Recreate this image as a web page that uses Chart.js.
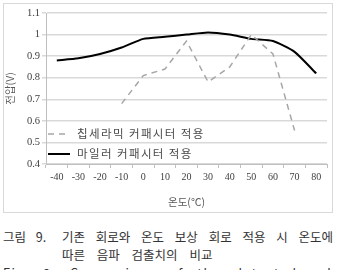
<!DOCTYPE html>
<html>
<head>
<meta charset="utf-8">
<script src="https://cdn.jsdelivr.net/npm/chart.js@4/dist/chart.umd.min.js"></script>
<style>
  html, body { margin: 0; padding: 0; background: #fff; }
  body { width: 340px; height: 270px; position: relative; overflow: hidden; font-family: "Noto Sans CJK KR", sans-serif; }
  #box { position: absolute; left: 3px; top: 3px; width: 330px; height: 210px; border: 1px solid #d9d9d9; box-sizing: border-box; }
  #box canvas { display: block; }
  .cap { position: absolute; font-size: 12.5px; color: #333; white-space: nowrap; }
  .row { display: flex; justify-content: space-between; }
</style>
</head>
<body>
<div id="box"><canvas id="chart" width="328" height="208"></canvas></div>

<div class="cap" style="left:3px; top:227px; word-spacing:7px;">그림 9.</div>
<div class="cap row" style="left:62px; top:227px; width:271px;">
  <span>기존</span><span>회로와</span><span>온도</span><span>보상</span><span>회로</span><span>적용</span><span>시</span><span>온도에</span>
</div>
<div class="cap" style="left:62px; top:245px; word-spacing:9px;">따른 음파 검출치의 비교</div>
<div class="cap" style="left:3px; top:263px; word-spacing:9px; letter-spacing:1.5px;">Fig. 9. Comparison of the detected values</div>

<script>
// 온도 (℃)
const temps = ['-40', '-30', '-20', '-10', '0', '10', '20', '30', '40', '50', '60', '70', '80'];
// 칩세라믹 커패시터 적용 (점선)
const ceramic = [null, null, null, 0.68, 0.81, 0.84, 0.97, 0.78, 0.85, 1.0, 0.91, 0.555, null];
// 마일러 커패시터 적용 (실선)
const mylar = [0.88, 0.89, 0.91, 0.94, 0.98, 0.99, 1.0, 1.01, 1.0, 0.98, 0.97, 0.92, 0.82];

const legendLabels = ['칩세라믹 커패시터 적용', '마일러 커패시터 적용'];
const yTicks = [0.4, 0.5, 0.6, 0.7, 0.8, 0.9, 1, 1.1];

// 범례를 플롯 안 왼쪽 아래에 그린다
const insideLegend = {
    id: 'insideLegend',
    afterDraw(chart) {
        const ctx = chart.ctx;
        const rows = [130, 150];
        ctx.save();
        chart.data.datasets.forEach((ds, i) => {
            const y = rows[i];
            ctx.beginPath();
            ctx.strokeStyle = ds.borderColor;
            ctx.lineWidth = ds.borderWidth;
            ctx.setLineDash(ds.borderDash || []);
            ctx.moveTo(44, y);
            ctx.lineTo(66, y);
            ctx.stroke();
            ctx.setLineDash([]);
            ctx.fillStyle = '#4a4a4a';
            ctx.font = '11.5px "Noto Sans CJK KR"';
            ctx.letterSpacing = '1.4px';
            ctx.textBaseline = 'middle';
            ctx.fillText(ds.label, 73, y);
        });
        ctx.restore();
    }
};

new Chart(document.getElementById('chart'), {
    type: 'line',
    data: {
        labels: temps,
        datasets: [
            {
                label: legendLabels[0],
                data: ceramic,
                borderColor: '#a6a6a6',
                borderWidth: 1.5,
                borderDash: [6, 5],
                pointRadius: 0,
                spanGaps: false,
                tension: 0
            },
            {
                label: legendLabels[1],
                data: mylar,
                borderColor: '#000000',
                borderWidth: 2,
                pointRadius: 0,
                tension: 0.2
            }
        ]
    },
    options: {
        responsive: false,
        animation: false,
        layout: { padding: { top: 9, right: 5, bottom: 0, left: 0 } },
        plugins: {
            legend: { display: false },
            tooltip: { enabled: false }
        },
        scales: {
            x: {
                offset: true,
                afterFit: (scale) => { scale.height = 48; },
                grid: { drawOnChartArea: false, drawTicks: true, tickLength: 4, color: '#bfbfbf', offset: true },
                border: { display: true, color: '#bfbfbf' },
                ticks: { color: '#404040', font: { family: 'Liberation Serif', size: 10 }, padding: 3, maxRotation: 0, autoSkip: false },
                title: { display: true, text: '온도(℃)', color: '#595959', font: { family: 'Noto Sans CJK KR', size: 10.5 }, padding: { top: 2 } }
            },
            y: {
                min: 0.4,
                max: 1.1,
                afterFit: (scale) => { scale.width = 42; },
                afterBuildTicks: (scale) => { scale.ticks = yTicks.map(v => ({ value: v })); },
                grid: { color: '#d9d9d9', lineWidth: 1.5, tickLength: 4 },
                border: { display: true, color: '#bfbfbf' },
                ticks: {
                    color: '#404040',
                    font: { family: 'Liberation Serif', size: 10.5 },
                    padding: 2,
                    callback: (v) => String(Math.round(v * 10) / 10)
                },
                title: { display: true, text: '전압(V)', color: '#595959', font: { family: 'Noto Sans CJK KR', size: 10.5 }, padding: 0 }
            }
        }
    },
    plugins: [insideLegend]
});
</script>
</body>
</html>
